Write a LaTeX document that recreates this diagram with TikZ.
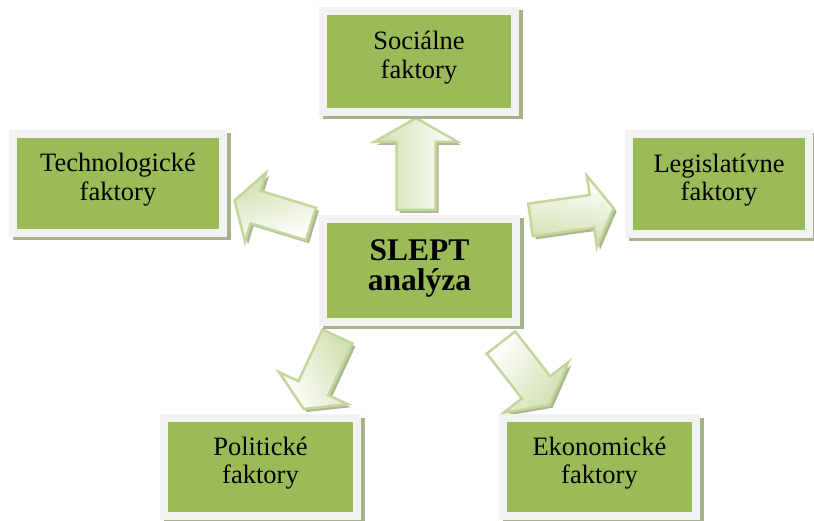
\documentclass[tikz,border=0pt]{standalone}
\usepackage{fontspec}
\setmainfont{Liberation Serif}

\definecolor{boxgreen}{HTML}{9BBB59}
\definecolor{framegray}{HTML}{F2F2F2}
\definecolor{boxshadow}{RGB}{166,178,140}
\definecolor{arrowline}{HTML}{C3D69B}
\definecolor{arrowfill}{HTML}{D0E0AE}
\definecolor{arrowshadow}{RGB}{172,182,148}

\tikzset{
  factor/.style={rectangle, fill=boxgreen, draw=framegray, line width=8pt,
    inner sep=0pt, outer sep=0pt,
    preaction={draw=boxshadow, fill=boxshadow,
      transform canvas={shift={(3.5pt,-3.5pt)}}}},
  factortext/.style={align=center, inner sep=0pt,
    font=\fontsize{26.5}{28.5}\selectfont},
  slepttext/.style={align=center, inner sep=0pt,
    font=\fontsize{31.5}{29.5}\selectfont\bfseries},
  arrowbody/.style={draw=arrowline, line width=2.5pt, line join=miter,
    top color=white, bottom color=arrowfill,
    preaction={fill=arrowshadow, transform canvas={shift={(3pt,-3pt)}}}},
  % block arrow: #1 direction, #2 length, #3 shaft half width,
  % #4 head half width, #5 head length; drawn from its tail centre
  pics/blockarrow/.style n args={5}{code={
    \begin{scope}[rotate=#1]
      \path[arrowbody, shading angle=-#1]
        (0,-#3) -- ({#2-#5},-#3) -- ({#2-#5},-#4) -- (#2,0)
        -- ({#2-#5},#4) -- ({#2-#5},#3) -- (0,#3) -- cycle;
    \end{scope}}}
}

\begin{document}
\begin{tikzpicture}[x=1pt,y=1pt]
\useasboundingbox (0,0) rectangle (814,520);

% tails of the five block arrows
\coordinate (toSoc) at (416,310);
\coordinate (toTech) at (311,296);
\coordinate (toLeg) at (530.5,300);
\coordinate (toPol) at (337.5,183.5);
\coordinate (toEko) at (501,177.5);

\pic at (toSoc)  {blockarrow={90}{92}{19.5}{42}{24}};
\pic at (toTech) {blockarrow={163}{80}{17}{36}{22}};
\pic at (toLeg)  {blockarrow={8}{84}{16.5}{36}{22}};
\pic at (toPol)  {blockarrow={245}{80}{16.5}{38}{23}};
\pic at (toEko)  {blockarrow={-52}{79}{18}{41}{22}};

% framed boxes
\node[factor, minimum width=193pt, minimum height=103pt] (slept) at (419.5,249.5) {};
\node[factor, minimum width=192pt, minimum height=101pt] (soc)   at (419,458.5) {};
\node[factor, minimum width=210pt, minimum height=99pt]  (tech)  at (118,336.5) {};
\node[factor, minimum width=180pt, minimum height=100pt] (leg)   at (719,336) {};
\node[factor, minimum width=193pt, minimum height=98pt]  (pol)   at (260.5,53) {};
\node[factor, minimum width=193pt, minimum height=98pt]  (eko)   at (599.5,53) {};

% labels
\node[slepttext, yshift=2pt] (slept-t) at (slept) {SLEPT\\analýza};
\node[factortext, yshift=4pt] (soc-t)  at (soc)  {Sociálne\\faktory};
\node[factortext, yshift=4pt] (tech-t) at (tech) {Technologické\\faktory};
\node[factortext, yshift=4pt] (leg-t)  at (leg)  {Legislatívne\\faktory};
\node[factortext, yshift=4pt] (pol-t)  at (pol)  {Politické\\faktory};
\node[factortext, yshift=4pt] (eko-t)  at (eko)  {Ekonomické\\faktory};
\end{tikzpicture}
\end{document}
